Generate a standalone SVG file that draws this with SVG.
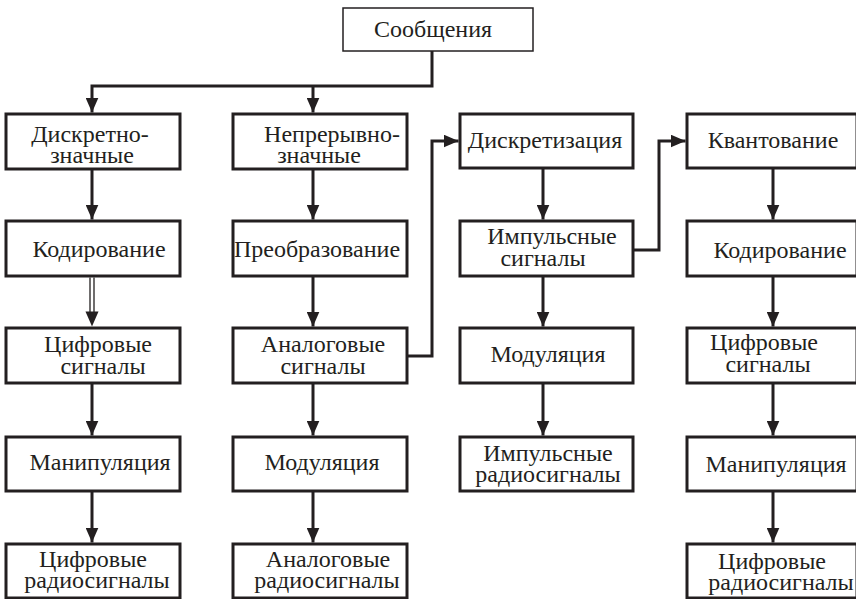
<svg xmlns="http://www.w3.org/2000/svg" width="856" height="599" viewBox="0 0 856 599">
<style>
.box{fill:#fff;stroke:#231f20;stroke-width:3}
.top{fill:#fff;stroke:#231f20;stroke-width:1.5}
.c{fill:none;stroke:#231f20;stroke-width:3}
.thin{fill:none;stroke:#231f20;stroke-width:1.3}
.ah{fill:#231f20}
</style>
<defs>
<marker id="arr" markerUnits="userSpaceOnUse" markerWidth="15" markerHeight="13" refX="15" refY="6.5" orient="auto">
<path d="M0,0 L15,6.5 L0,13 z" fill="#231f20"/>
</marker>
</defs>
<rect width="856" height="599" fill="#fff"/>
<g id="connectors">
<path class="c" d="M432,51 V86 H92 V112.5" marker-end="url(#arr)"/>
<path class="c" d="M313,86 V112.5" marker-end="url(#arr)"/>
<path class="c" d="M92,169 V219.5" marker-end="url(#arr)"/>
<line class="thin" x1="90" y1="277.5" x2="90" y2="314"/>
<line class="thin" x1="94" y1="277.5" x2="94" y2="314"/>
<polygon class="ah" points="85.5,311.5 98.5,311.5 92,326.5"/>
<path class="c" d="M92,383 V435.5" marker-end="url(#arr)"/>
<path class="c" d="M92,491 V542.5" marker-end="url(#arr)"/>
<path class="c" d="M313,169 V219.5" marker-end="url(#arr)"/>
<path class="c" d="M313,276 V326.5" marker-end="url(#arr)"/>
<path class="c" d="M313,383 V435.5" marker-end="url(#arr)"/>
<path class="c" d="M313,491 V542.5" marker-end="url(#arr)"/>
<path class="c" d="M407,356 H432 V141 H458.5" marker-end="url(#arr)"/>
<path class="c" d="M543,168 V219.5" marker-end="url(#arr)"/>
<path class="c" d="M543,276 V326.5" marker-end="url(#arr)"/>
<path class="c" d="M543,383 V435.5" marker-end="url(#arr)"/>
<path class="c" d="M633,250 H659 V141 H685.5" marker-end="url(#arr)"/>
<path class="c" d="M773,168 V219.5" marker-end="url(#arr)"/>
<path class="c" d="M773,276 V326.5" marker-end="url(#arr)"/>
<path class="c" d="M773,383 V435.5" marker-end="url(#arr)"/>
<path class="c" d="M773,491 V542.5" marker-end="url(#arr)"/>
</g>
<g font-family="'Liberation Serif', serif" font-size="24" fill="#231f20" text-anchor="middle">
<g id="n-soobshcheniya">
<rect class="top" x="343" y="8" width="190" height="43"/>
<text x="433" y="37">Сообщения</text>
</g>
<g id="n-diskretno">
<rect class="box" x="6" y="114" width="174" height="55"/>
<text x="90" y="142">Дискретно-</text>
<text x="92" y="163">значные</text>
</g>
<g id="n-nepreryvno">
<rect class="box" x="233" y="114" width="174" height="55"/>
<text x="332" y="142">Непрерывно-</text>
<text x="319" y="163">значные</text>
</g>
<g id="n-diskretizatsiya">
<rect class="box" x="460" y="114" width="173" height="54"/>
<text x="545" y="148">Дискретизация</text>
</g>
<g id="n-kvantovanie">
<rect class="box" x="687" y="114" width="170" height="54"/>
<text x="773" y="148">Квантование</text>
</g>
<g id="n-kodirovanie1">
<rect class="box" x="6" y="221" width="174" height="55"/>
<text x="99" y="257">Кодирование</text>
</g>
<g id="n-preobrazovanie">
<rect class="box" x="233" y="221" width="174" height="55"/>
<text x="317" y="257">Преобразование</text>
</g>
<g id="n-impulsnye">
<rect class="box" x="460" y="221" width="173" height="55"/>
<text x="552" y="244">Импульсные</text>
<text x="543" y="266">сигналы</text>
</g>
<g id="n-kodirovanie2">
<rect class="box" x="687" y="221" width="170" height="55"/>
<text x="780" y="258">Кодирование</text>
</g>
<g id="n-tsifrovye1">
<rect class="box" x="6" y="328" width="174" height="55"/>
<text x="98" y="352">Цифровые</text>
<text x="103" y="374">сигналы</text>
</g>
<g id="n-analogovye">
<rect class="box" x="233" y="328" width="174" height="55"/>
<text x="323" y="352">Аналоговые</text>
<text x="323" y="374">сигналы</text>
</g>
<g id="n-modulyatsiya1">
<rect class="box" x="460" y="328" width="173" height="55"/>
<text x="548" y="362">Модуляция</text>
</g>
<g id="n-tsifrovye2">
<rect class="box" x="687" y="328" width="170" height="55"/>
<text x="764" y="350">Цифровые</text>
<text x="768" y="372">сигналы</text>
</g>
<g id="n-manipulyatsiya1">
<rect class="box" x="6" y="437" width="174" height="54"/>
<text x="100" y="470">Манипуляция</text>
</g>
<g id="n-modulyatsiya2">
<rect class="box" x="233" y="437" width="174" height="54"/>
<text x="322" y="470">Модуляция</text>
</g>
<g id="n-impulsnye-radio">
<rect class="box" x="460" y="437" width="173" height="54"/>
<text x="548" y="461">Импульсные</text>
<text x="548" y="482">радиосигналы</text>
</g>
<g id="n-manipulyatsiya2">
<rect class="box" x="687" y="437" width="170" height="54"/>
<text x="776" y="472">Манипуляция</text>
</g>
<g id="n-tsifrovye-radio1">
<rect class="box" x="6" y="544" width="174" height="54"/>
<text x="93" y="567">Цифровые</text>
<text x="97" y="588">радиосигналы</text>
</g>
<g id="n-analogovye-radio">
<rect class="box" x="233" y="544" width="174" height="54"/>
<text x="328" y="567">Аналоговые</text>
<text x="327" y="588">радиосигналы</text>
</g>
<g id="n-tsifrovye-radio2">
<rect class="box" x="687" y="544" width="170" height="54"/>
<text x="772" y="569">Цифровые</text>
<text x="781" y="590">радиосигналы</text>
</g>
</g>
</svg>
